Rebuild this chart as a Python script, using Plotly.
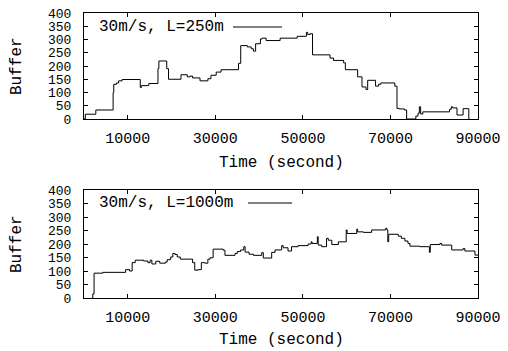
import plotly.graph_objects as go

# ---- data ----
t_250 = [0, 300, 2700, 6650, 6800, 7400, 7900, 8700, 12850, 13100, 14800, 16900,
         17100, 18900, 19300, 22150, 23600, 24200, 24800, 26500, 28300, 29000,
         30200, 31300, 35300, 35800, 37300, 38200, 38700, 39200, 40300, 40700,
         41600, 44800, 48700, 50800, 51100, 51700, 52200, 56200, 57000, 59300,
         59700, 62500, 63500, 64400, 64800, 66600, 67300, 67800, 71000, 71500,
         72000, 73200, 73700, 75800, 76300, 76600, 76900, 77400, 83500, 83900,
         84200, 85200, 86600, 87900, 88000]
v_250 = [0, 18, 34, 100, 131, 136, 144, 149, 119, 126, 134, 190,
         219, 190, 150, 167, 159, 162, 155, 144, 152, 165,
         177, 186, 210, 277, 272, 265, 256, 284, 302, 305,
         296, 305, 312, 327, 319, 322, 242, 230, 221, 212,
         186, 159, 121, 111, 146, 124, 131, 136, 124, 40,
         38, 34, 0, 11, 22, 46, 19, 27, 37, 46,
         42, 15, 39, 0, 0]

t_1000 = [1800, 2000, 2300, 4300, 9500, 10400, 11000, 11700, 13600, 14600, 15100,
          15500, 16400, 17300, 18600, 19000, 19800, 20300, 20800, 21300, 22000,
          24800, 25300, 26000, 26800, 27600, 28300, 28800, 29500, 31800, 32200,
          34500, 35000, 35800, 36500, 36800, 37700, 38700, 40600, 40960, 42870,
          43630, 45150, 45500, 46600, 47400, 48900, 51200, 51900, 52100, 53300,
          53500, 54300, 55400, 55800, 56600, 58100, 59900, 60100, 62300, 62500,
          63800, 65700, 68900, 69200, 69400, 69600, 71800, 72500, 73300, 74000,
          74450, 76700, 78900, 79100, 81300, 81700, 84000, 86600, 87000, 89300,
          90000]
v_1000 = [0, 15, 92, 95, 105, 100, 131, 140, 137, 131, 140,
          126, 136, 129, 133, 142, 152, 165, 161, 152, 144,
          131, 103, 105, 131, 129, 144, 149, 181, 177, 158,
          165, 172, 178, 190, 170, 162, 158, 168, 148, 169,
          178, 194, 186, 174, 190, 194, 200, 208, 202, 227,
          196, 190, 221, 214, 198, 208, 252, 239, 255, 245,
          243, 252, 258, 252, 208, 236, 229, 221, 211, 202,
          192, 190, 169, 198, 202, 196, 178, 183, 174, 159,
          159]

x_ticks = [10000, 30000, 50000, 70000, 90000]
y_ticks = [0, 50, 100, 150, 200, 250, 300, 350, 400]
labels = ["30m/s, L=250m", "30m/s, L=1000m"]

W, H = 492, 343   # page body has an 8px margin
OFF = 8
FONT = "Liberation Mono"

def px_x(p):
    return (p - OFF) / W

def px_y(p):
    return 1 - (p - OFF) / H

fig = go.Figure()
fig.add_trace(go.Scatter(x=t_250, y=v_250, mode="lines", line=dict(color="black", width=1, shape="hv"),
                         xaxis="x", yaxis="y", showlegend=False))
fig.add_trace(go.Scatter(x=t_1000, y=v_1000, mode="lines", line=dict(color="black", width=1, shape="hv"),
                         xaxis="x2", yaxis="y2", showlegend=False))

axis_common = dict(showline=True, linecolor="black", linewidth=1, mirror="allticks",
                   ticks="inside", ticklen=4, tickcolor="black", showgrid=False, zeroline=False,
                   automargin=False, ticklabeloverflow="allow")
xfont = dict(family=FONT, size=15, color="black")
yfont = dict(family=FONT, size=13, color="black")

xdom = [px_x(84), px_x(478)]
fig.update_layout(
    width=W, height=H, margin=dict(l=0, r=0, t=0, b=0),
    paper_bgcolor="white", plot_bgcolor="white",
    xaxis=dict(domain=xdom, range=[0, 90000], tickvals=x_ticks, tickformat="d", anchor="y",
               ticklabelstandoff=5, tickfont=xfont, **axis_common),
    yaxis=dict(domain=[px_y(119), px_y(13)], range=[0, 400], tickvals=y_ticks, anchor="x",
               ticklabelstandoff=9, tickfont=yfont, **axis_common),
    xaxis2=dict(domain=xdom, range=[0, 90000], tickvals=x_ticks, tickformat="d", anchor="y2",
                ticklabelstandoff=5, tickfont=xfont, **axis_common),
    yaxis2=dict(domain=[px_y(298), px_y(190)], range=[0, 400], tickvals=y_ticks, anchor="x2",
                ticklabelstandoff=9, tickfont=yfont, **axis_common),
)

tf = dict(family=FONT, size=16, color="black")
ann = []
for yc in (163, 340):
    ann.append(dict(text="Time (second)", x=px_x(281), y=px_y(yc), xref="paper", yref="paper",
                    showarrow=False, font=tf, xanchor="center", yanchor="middle"))
for yc in (66, 244):
    ann.append(dict(text="Buffer", x=px_x(17), y=px_y(yc), xref="paper", yref="paper",
                    showarrow=False, font=tf, textangle=-90, xanchor="center", yanchor="middle"))
legend_pos = [(27, 233, 282), (203, 248, 292)]
shapes = []
for lab, (yc, x0, x1) in zip(labels, legend_pos):
    ann.append(dict(text=lab, x=px_x(97), y=px_y(yc), xref="paper", yref="paper",
                    showarrow=False, font=tf, xanchor="left", yanchor="middle"))
    shapes.append(dict(type="line", xref="paper", yref="paper", x0=px_x(x0), x1=px_x(x1),
                       y0=px_y(yc), y1=px_y(yc), line=dict(color="black", width=1)))
fig.update_layout(annotations=ann, shapes=shapes)

fig.write_html("out.html")
